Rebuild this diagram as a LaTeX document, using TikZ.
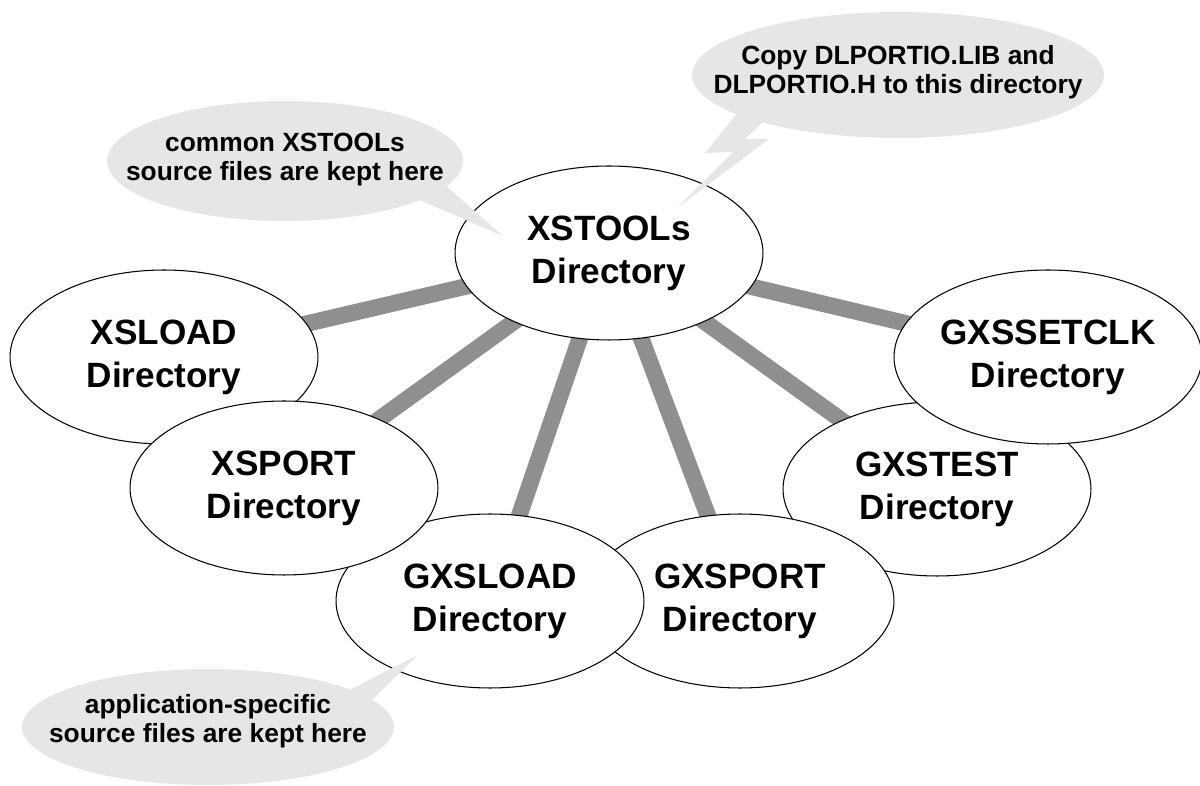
\documentclass[tikz,border=0pt]{standalone}
\usepackage{fontspec}
\setmainfont{Liberation Sans}
\usepackage{xcolor}
\usetikzlibrary{shapes.geometric, backgrounds}

\definecolor{linkgray}{HTML}{8F8F8F}
\definecolor{bubblegray}{HTML}{E6E6E6}

\tikzset{
  dirnode/.style    = {ellipse, draw, line width=0.6pt, fill=white,
                       minimum width=6.16cm, minimum height=3.48cm, inner sep=0pt,
                       align=center, font=\bfseries\fontsize{20}{24.5}\selectfont},
  link/.style       = {line width=0.33cm, linkgray},
  bubble/.style     = {fill=bubblegray},
  bubbletext/.style = {inner sep=0pt, align=center,
                       font=\bfseries\fontsize{15}{16.5}\selectfont}
}

\begin{document}
\begin{tikzpicture}[x=0.02cm, y=-0.02cm]
        \useasboundingbox (0,0) rectangle (1200,786);

         % Directories, back to front
         \node[dirnode] (gxstest)   at (937,489)  {GXSTEST\\Directory};
         \node[dirnode] (gxssetclk) at (1048,357) {GXSSETCLK\\Directory};
         \node[dirnode] (gxsport)   at (740,601)  {GXSPORT\\Directory};
         \node[dirnode] (gxsload)   at (490,601)  {GXSLOAD\\Directory};
         \node[dirnode] (xsload)    at (164,357)  {XSLOAD\\Directory};
         \node[dirnode] (xsport)    at (284,488)  {XSPORT\\Directory};
         \node[dirnode] (xstools)   at (609,253)  {XSTOOLs\\Directory};

         % Links
         \begin{scope}[on background layer]
           \foreach \dir in {xsload, xsport, gxsload, gxsport, gxstest, gxssetclk}
             \draw[link] (xstools.center) -- (\dir.center);
         \end{scope}

         % Callouts
         \fill[bubble] (285,161) ellipse [x radius=3.56cm, y radius=1.2cm];
         \fill[bubble] (415,198) -- (503,236) -- (445,185) -- cycle;
         \node[bubbletext] (common) at (285,160) {common XSTOOLs\\source files are kept here};

         \fill[bubble] (898,75) ellipse [x radius=4.12cm, y radius=1.26cm];
         \fill[bubble] (740,110) -- (705,153) -- (733,152) -- (677,208)
                       -- (769,139) -- (745,139) -- (770,115) -- cycle;
         \node[bubbletext] (copy) at (898,72) {Copy DLPORTIO.LIB and\\DLPORTIO.H to this directory};

         \fill[bubble] (208,727) ellipse [x radius=3.72cm, y radius=1.16cm];
         \fill[bubble] (330,700) -- (418,655) -- (372,700) -- cycle;
         \node[bubbletext] (appspec) at (208,721) {application-specific\\source files are kept here};
\end{tikzpicture}
\end{document}
